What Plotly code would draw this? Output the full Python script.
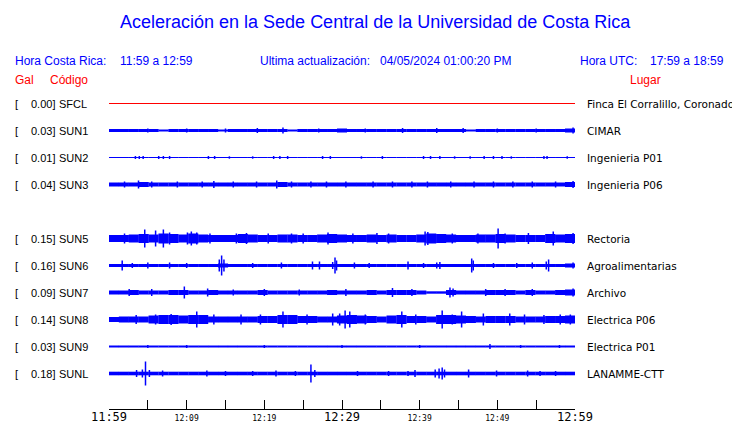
import plotly.graph_objects as go

# ---------------- data ----------------
codes = ["SFCL", "SUN1", "SUN2", "SUN3", "SUN5", "SUN6", "SUN7", "SUN8", "SUN9", "SUNL"]
rows = [0, 1, 2, 3, 5, 6, 7, 8, 9, 10]
gal = ["0.00", "0.03", "0.01", "0.04", "0.15", "0.16", "0.09", "0.14", "0.03", "0.18"]
places = ["Finca El Corralillo, Coronado", "CIMAR", "Ingenieria P01", "Ingenieria P06",
          "Rectoria", "Agroalimentarias", "Archivo", "Electrica P06", "Electrica P01", "LANAMME-CTT"]

tick_minutes = [0, 5, 10, 15, 20, 25, 30, 35, 40, 45, 50, 55, 60]
tick_labels = ["11:59", "", "12:09", "", "12:19", "", "12:29", "", "12:39", "", "12:49", "", "12:59"]
tick_big = [True, False, False, False, False, False, True, False, False, False, False, False, True]

# band half-amplitude per ~1.28 min bin (47 bins over the hour)
band_SFCL = [0.0] * 47
band_SUN1 = [1.5, 1.5, 1.5, 1.5, 1.5, 1.0, 1.5, 1.5, 1.5, 1.5, 1.5, 1.0, 1.5, 1.5, 1.5, 1.5,
             1.5, 1.5, 1.0, 1.5, 1.5, 1.5, 1.5, 2.0, 1.5, 1.5, 1.5, 1.5, 1.5, 1.5, 1.5, 1.5,
             1.5, 1.5, 1.5, 1.5, 1.0, 1.5, 1.5, 1.5, 1.5, 1.5, 1.5, 1.5, 1.5, 1.5, 2.0]
band_SUN2 = [0.5] * 47
band_SUN3 = [2.0, 2.0, 2.0, 2.5, 2.0, 2.0, 2.0, 2.0, 2.0, 2.0, 2.0, 2.0, 2.0, 2.0, 2.0, 2.0,
             2.0, 2.5, 2.0, 2.0, 2.0, 2.0, 2.0, 2.0, 2.0, 2.0, 2.0, 2.0, 2.0, 2.0, 2.0, 2.0,
             2.0, 2.0, 2.0, 2.0, 2.0, 2.0, 2.0, 2.0, 2.0, 2.0, 2.0, 2.0, 2.0, 2.0, 2.5]
band_SUN5 = [3.5, 3.5, 4, 4.5, 4, 5, 4.5, 4, 5, 4, 3.5, 3.5, 3.5, 4.5, 4, 3.5, 3.5, 4, 4, 3.5,
             3.5, 4, 4.5, 4, 3.5, 3.5, 4, 3.5, 4, 3.5, 3.5, 4, 5, 4.5, 4, 3.5, 3.5, 4, 4, 4.5,
             4, 3.5, 3.5, 3.5, 4.5, 4, 4.5]
band_SUN6 = [1.5, 1.5, 1.5, 1.5, 1.5, 1.5, 1.5, 1.5, 1.5, 1.5, 1.5, 2.0, 1.5, 1.5, 1.5, 1.5,
             1.5, 1.5, 1.5, 1.5, 1.5, 1.5, 1.5, 1.5, 1.5, 1.5, 1.5, 1.5, 1.5, 1.5, 1.5, 1.5,
             1.5, 1.5, 1.5, 1.5, 1.5, 1.5, 1.5, 1.5, 1.5, 1.5, 1.5, 1.5, 1.5, 1.5, 2.0]
band_SUN7 = [2, 2, 2.5, 2, 2, 2, 2.5, 2.5, 2, 2, 2.5, 2, 2, 2, 2, 2.5, 2, 2, 2, 2, 2, 2, 2.5, 2,
             2, 2, 2.5, 2, 2.5, 2.5, 2.5, 2, 1.2, 1.2, 2.5, 2, 2, 2, 2.5, 2.5, 2.5, 2, 2.5, 2, 2,
             2.5, 3]
band_SUN8 = [2.5, 3, 3, 3, 4, 4.5, 4.5, 4, 4.5, 4.5, 3, 3, 3, 3, 3, 3.5, 3.5, 4.5, 4.5, 3.5,
             3.5, 3, 3, 4, 4.5, 4, 3.5, 3, 4, 4.5, 3.5, 3.5, 3, 4.5, 4.5, 4, 3.5, 3, 3.5, 3.5,
             3.5, 3, 3, 3, 3.5, 3.5, 4]
band_SUN9 = [1.0] * 47
band_SUNL = [1.8] * 47

# isolated peaks: (minute after 11:59, half-amplitude)
spk_SFCL = []
spk_SUN1 = [(19.1, 2.5), (22.4, 3), (37.8, 2.5), (42.2, 2.5), (45.6, 2.5), (59.75, 3), (5.0, 2),
            (10.0, 2), (15.0, 2), (27.0, 2), (33.0, 2), (50.0, 2), (55.0, 2)]
spk_SUN2 = [(3.4, 1.5), (3.9, 1.5), (4.4, 1.5), (6.4, 1.5), (7.0, 1.5), (7.8, 1.5), (12.8, 1.5),
            (13.6, 1.5), (15.5, 1.2), (18.5, 1.2), (21.2, 1.5), (22.0, 1.5), (23.0, 1.5),
            (27.5, 1.5), (28.5, 1.5), (32.5, 1.2), (35.2, 1.5), (40.5, 1.5), (41.4, 1.5),
            (42.6, 1.5), (44.5, 1.2), (46.5, 1.2), (48.3, 1.5), (49.5, 1.5), (50.6, 1.5),
            (51.8, 1.2), (56.0, 1.5), (56.4, 1.5), (59.0, 1.2)]
spk_SUN3 = [(3.8, 4), (8.8, 3), (21.6, 4), (28.0, 3), (59.75, 3.5), (2.0, 3), (5.5, 3), (12.0, 3),
            (13.5, 3.5), (16.0, 3), (19.0, 3), (23.5, 3), (26.0, 3), (30.5, 3), (34.0, 3),
            (36.5, 3), (39.0, 3), (41.0, 3), (44.0, 3), (47.0, 3), (49.5, 3), (52.0, 3),
            (54.5, 3), (57.5, 3)]
spk_SUN5 = [(4.6, 9), (6.0, 8), (7.0, 9), (7.8, 6), (10.1, 6), (10.6, 7), (11.3, 6), (16.4, 5),
            (17.7, 5.5), (23.5, 5), (28.2, 6), (31.4, 5), (34.5, 5.5), (40.7, 7), (41.05, 6.5),
            (44.2, 5), (50.1, 10), (51.0, 5), (57.2, 7), (59.75, 5.5), (2.0, 5), (13.0, 5),
            (20.5, 5), (25.0, 5), (36.0, 5), (47.5, 5), (54.0, 5.5)]
spk_SUN6 = [(1.7, 5), (5.0, 3), (7.8, 3), (14.5, 10), (14.2, 6), (14.8, 6), (22.2, 3), (26.2, 4),
            (27.1, 4), (28.8, 3.5), (29.1, 8), (29.3, 5), (31.6, 3), (38.5, 4), (42.2, 3),
            (42.6, 3.5), (46.7, 7), (46.9, 5), (56.6, 6), (56.3, 4), (59.75, 3), (3.0, 2.5),
            (10.0, 2.5), (18.5, 2.5), (33.5, 2.5), (40.5, 2.5), (49.5, 2.5), (52.5, 2.5),
            (54.5, 3)]
spk_SUN7 = [(2.6, 3.5), (9.7, 6), (12.7, 4), (5.5, 3.5), (16.0, 3), (20.0, 3.5), (24.5, 3),
            (36.5, 4.5), (43.9, 5), (44.3, 4), (54.5, 3.5), (59.75, 4), (30.5, 3.5), (48.5, 3.5),
            (39.0, 3.5), (51.0, 3.5)]
spk_SUN8 = [(11.3, 8), (22.4, 8), (28.8, 6), (29.7, 6), (30.4, 9), (31.0, 8), (33.0, 5),
            (37.7, 8), (39.5, 5), (42.9, 9), (44.2, 5), (45.4, 8), (48.2, 6), (51.6, 6),
            (56.0, 4.5), (58.1, 5), (59.4, 5), (6.0, 5), (8.0, 5.5), (13.5, 5), (17.0, 5),
            (19.5, 5), (25.5, 5), (53.5, 5), (3.5, 4.5)]
spk_SUN9 = [(49.05, 2.5), (5.0, 1.5), (10.0, 1.5), (20.0, 1.5), (30.0, 1.5), (40.0, 1.5),
            (53.0, 1.5), (58.0, 1.5)]
spk_SUNL = [(4.7, 12), (3.55, 3.5), (4.3, 4), (5.2, 3.5), (6.9, 3), (12.6, 3), (21.5, 3),
            (26.0, 9), (26.5, 3.5), (39.4, 3.5), (42.0, 4), (42.5, 5), (42.9, 6), (43.2, 4),
            (46.3, 4), (49.9, 3), (53.9, 3), (15.0, 2.5), (18.5, 2.5), (24.0, 2.5), (32.0, 2.5),
            (36.0, 2.5), (38.5, 2.5), (55.5, 2.5), (57.5, 2.5)]

bands = [band_SFCL, band_SUN1, band_SUN2, band_SUN3, band_SUN5, band_SUN6, band_SUN7,
         band_SUN8, band_SUN9, band_SUNL]
spikes = [spk_SFCL, spk_SUN1, spk_SUN2, spk_SUN3, spk_SUN5, spk_SUN6, spk_SUN7, spk_SUN8,
          spk_SUN9, spk_SUNL]

# ---------------- figure ----------------
BLUE = "#0000ff"
RED = "#ff0000"
ROW = 27.0
SPAN = 60.0

fig = go.Figure()
for code, r, band, spk in zip(codes, rows, bands, spikes):
    off = -ROW * r
    if max(band) == 0 and not spk:
        fig.add_trace(go.Scatter(x=[0, SPAN], y=[off, off], mode="lines",
                                 line=dict(color=RED, width=1.2), hoverinfo="skip"))
        continue
    n = len(band)
    w = SPAN / n
    xs = [w * (i + 0.5) for i in range(n)]
    fig.add_trace(go.Bar(x=xs, y=[2 * a for a in band], base=[off - a for a in band],
                         width=w * 1.02, marker=dict(color=BLUE, line=dict(width=0)),
                         hoverinfo="skip"))
    sx, sy = [], []
    for t, a in spk:
        sx += [t, t, None]
        sy += [off - a, off + a, None]
    fig.add_trace(go.Scatter(x=sx, y=sy, mode="lines", line=dict(color=BLUE, width=1.5),
                             hoverinfo="skip"))

# page body has an 8px default margin; figure sized so the page matches 740x423
OFF = 8
W, H = 740 - OFF, 423 - OFF
L, R, T, B = 109 - OFF, 165, 90 - OFF, 14
pw, ph = W - L - R, H - T - B


def px(xp):
    return (xp - OFF - L) / pw


def py(yp):
    return (H - B - (yp - OFF)) / ph


ann = []
ann.append(dict(text="Aceleración en la Sede Central de la Universidad de Costa Rica",
                x=px(375), y=py(22), font=dict(size=18, color=BLUE, family="Liberation Sans"),
                xanchor="center"))
hdr = [("Hora Costa Rica:", 13), ("11:59 a 12:59", 118), ("Ultima actualización:", 258),
       ("04/05/2024 01:00:20 PM", 378), ("Hora UTC:", 578), ("17:59 a 18:59", 648)]
for t, x in hdr:
    ann.append(dict(text=t, x=px(x), y=py(61), xanchor="left",
                    font=dict(size=12, color=BLUE, family="Liberation Sans")))
for t, x, xa in [("Gal", 13, "left"), ("Código", 48, "left"), ("Lugar", 645, "center")]:
    ann.append(dict(text=t, x=px(x), y=py(80), xanchor=xa,
                    font=dict(size=12, color=RED, family="Liberation Sans")))
for code, r, g, p in zip(codes, rows, gal, places):
    yv = -ROW * r
    lf = dict(size=11, color="black", family="Liberation Sans")
    ann.append(dict(text="[", x=px(13), y=yv, yref="y", xanchor="left", font=lf))
    ann.append(dict(text=g + "]", x=px(57), y=yv, yref="y", xanchor="right", font=lf))
    ann.append(dict(text=code, x=px(57), y=yv, yref="y", xanchor="left", font=lf))
    ann.append(dict(text=p, x=px(585), y=yv, yref="y", xanchor="left",
                    font=dict(size=10.5, color="black", family="DejaVu Sans")))
for a in ann:
    a.setdefault("xref", "paper")
    a.setdefault("yref", "paper")
    a["showarrow"] = False
    a["yanchor"] = "middle"

ticktext = []
for lab, big in zip(tick_labels, tick_big):
    if big:
        ticktext.append(lab)
    else:
        ticktext.append('<span style="font-size:8px">' + lab + "</span>")

fig.update_layout(
    width=W, height=H, margin=dict(l=L, r=R, t=T, b=B, pad=0),
    paper_bgcolor="white", plot_bgcolor="white", showlegend=False,
    barmode="overlay", template="none",
    annotations=ann,
    xaxis=dict(range=[0, SPAN], tickmode="array", tickvals=tick_minutes, ticktext=ticktext,
               ticks="inside", ticklen=9, tickwidth=1, tickcolor="black",
               showline=True, linecolor="black", linewidth=1, showgrid=False, zeroline=False,
               mirror=False, automargin=False, ticklabelstandoff=-3,
               tickfont=dict(family="DejaVu Sans Mono", size=12, color="black")),
    yaxis=dict(range=[-305.5, 13.5], visible=False, showgrid=False, zeroline=False,
               fixedrange=True),
)

fig.write_html("out.html")
